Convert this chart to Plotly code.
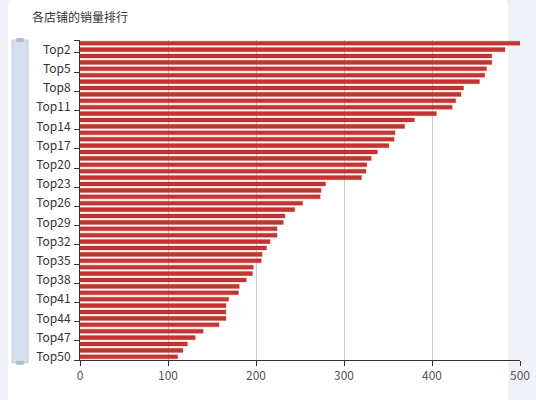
import plotly.graph_objects as go

# 店铺排名和销量
shops = ["Top%d" % i for i in range(1, 51)]
sales = [500, 483, 468, 468, 462, 460, 454, 436, 433, 427,
         423, 405, 380, 369, 358, 357, 351, 338, 331, 326,
         325, 320, 279, 274, 273, 253, 244, 233, 231, 224,
         224, 216, 212, 207, 206, 197, 196, 189, 181, 180,
         169, 166, 166, 166, 158, 140, 131, 122, 117, 111]
shown_labels = shops[1::3]
x_ticks = [0, 100, 200, 300, 400, 500]

fig = go.Figure()
fig.add_trace(go.Bar(
    x=sales, y=shops, orientation="h",
    marker=dict(color="#c23531", line=dict(color="rgba(194,53,49,0.3)", width=1)),
    showlegend=False,
))
# 只用来画刻度线的辅助轴
fig.add_trace(go.Scatter(x=[], y=[], yaxis="y2", showlegend=False))

# tick marks sit below each labelled category, like echarts
tick_pos = [-0.5] + [shops.index(s) + 0.5 for s in shown_labels]

fig.update_layout(
    width=536, height=400,
    margin=dict(l=80, r=16, t=40, b=40),
    paper_bgcolor="#f1f2f8",
    plot_bgcolor="rgba(0,0,0,0)",
    bargap=0.36,
    font=dict(family="Noto Sans CJK SC, Noto Sans, sans-serif", size=12, color="#333"),
    title=dict(text="各店铺的销量排行", x=32 / 536, xref="container", xanchor="left",
               y=1 - 14 / 400, yref="container", yanchor="top",
               font=dict(size=12, color="#333")),
    xaxis=dict(range=[0, 500], tickvals=x_ticks, showgrid=True, gridcolor="#cccccc",
               zeroline=False, showline=True, linecolor="#333", linewidth=1,
               ticks="outside", ticklen=5, tickcolor="#333", automargin=False,
               tickfont=dict(color="#555", size=12)),
    yaxis=dict(type="category", categoryorder="array", categoryarray=shops,
               autorange="reversed", tickvals=shown_labels, ticks="",
               showline=True, linecolor="#333", linewidth=1, showgrid=False,
               automargin=False, ticklabelstandoff=6, tickfont=dict(color="#333", size=12)),
    yaxis2=dict(overlaying="y", anchor="x", range=[49.5, -0.5], tickvals=tick_pos,
                ticks="outside", ticklen=5, tickcolor="#333", showticklabels=False,
                showgrid=False, zeroline=False, showline=False, automargin=False),
    shapes=[
        # 白色卡片
        dict(type="path", xref="paper", yref="paper", layer="below",
             path="M -0.150,1.128 L 0.959,1.128 Q 0.973,1.128 0.973,1.109 L 0.973,-0.2 "
                  "L -0.164,-0.2 L -0.164,1.109 Q -0.164,1.128 -0.150,1.128 Z",
             fillcolor="white", line=dict(width=0)),
        # 左侧 dataZoom 滑条
        dict(type="rect", xref="paper", yref="paper", x0=-0.1545, x1=-0.118, y0=-0.009, y1=1.0,
             fillcolor="#d7dfea", line=dict(color="#c3cedc", width=1)),
        dict(type="rect", xref="paper", yref="paper", x0=-0.145, x1=-0.128, y0=0.994, y1=1.006,
             fillcolor="#aebcd0", line=dict(width=0)),
        dict(type="rect", xref="paper", yref="paper", x0=-0.145, x1=-0.128, y0=-0.015, y1=-0.003,
             fillcolor="#aebcd0", line=dict(width=0)),
    ],
)

fig.write_html("out.html", config={"displayModeBar": False},
               post_script="document.body.style.margin='0';"
                           "document.body.style.background='#f1f2f8';")
